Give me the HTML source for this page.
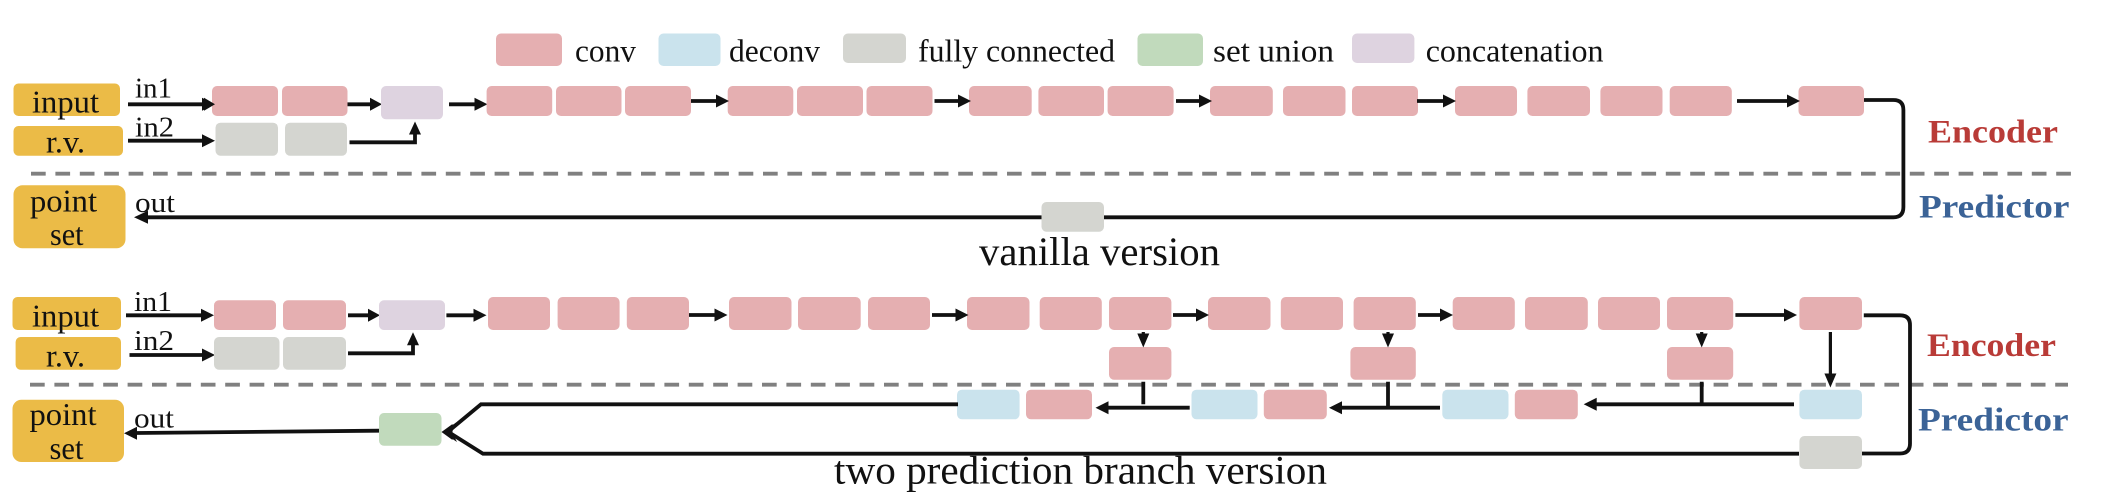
<!DOCTYPE html>
<html><head><meta charset="utf-8"><style>
html,body{margin:0;padding:0;background:#fff}
svg{display:block}
text{font-family:"Liberation Serif",serif;fill:#111}
.c{fill:#E5AFB1}.d{fill:#CAE3ED}.f{fill:#D4D5D0}.u{fill:#C1DABC}.k{fill:#DED3E0}.g{fill:#EBBB47}
.l{fill:none;stroke:#111;stroke-width:3.8}
.t{fill:none;stroke:#111;stroke-width:3.2}
.h{fill:#111}
.da{fill:none;stroke:#808080;stroke-width:3.8;stroke-dasharray:14.7 9.7}
</style></head><body>
<svg width="2106" height="502" viewBox="0 0 2106 502" xmlns="http://www.w3.org/2000/svg">
<rect width="2106" height="502" fill="#fff"/>
<!-- legend -->
<rect class="c" x="496" y="33.5" width="66" height="32.5" rx="5"/>
<rect class="d" x="658.5" y="33.5" width="62" height="32.5" rx="5"/>
<rect class="f" x="843" y="33.5" width="63" height="29.5" rx="5"/>
<rect class="u" x="1137.5" y="33.5" width="65.5" height="32.5" rx="5"/>
<rect class="k" x="1352" y="33.5" width="62.4" height="29.5" rx="5"/>
<g font-size="32">
<text x="575" y="61.7" textLength="61" lengthAdjust="spacingAndGlyphs">conv</text>
<text x="729" y="61.7" textLength="91" lengthAdjust="spacingAndGlyphs">deconv</text>
<text x="918" y="61.7" textLength="197" lengthAdjust="spacingAndGlyphs">fully connected</text>
<text x="1213" y="61.7" textLength="121" lengthAdjust="spacingAndGlyphs">set union</text>
<text x="1425.7" y="61.7" textLength="177.8" lengthAdjust="spacingAndGlyphs">concatenation</text>
</g>

<!-- TOP: vanilla -->
<rect class="g" x="13.5" y="83.5" width="106.5" height="32.5" rx="5"/>
<rect class="g" x="13.5" y="126" width="109.5" height="29.7" rx="5"/>
<rect class="g" x="13.5" y="185.3" width="112" height="63" rx="9"/>
<g font-size="32">
<text x="32" y="112.7" textLength="67" lengthAdjust="spacingAndGlyphs">input</text>
<text x="46" y="152.3" textLength="39" lengthAdjust="spacingAndGlyphs">r.v.</text>
<text x="30" y="211.7" textLength="67" lengthAdjust="spacingAndGlyphs">point</text>
<text x="50" y="245" textLength="33.5" lengthAdjust="spacingAndGlyphs">set</text>
</g>
<g font-size="29">
<text x="135" y="97.7" textLength="37" lengthAdjust="spacingAndGlyphs">in1</text>
<text x="135" y="136.7" textLength="39" lengthAdjust="spacingAndGlyphs">in2</text>
<text x="135" y="212" textLength="40" lengthAdjust="spacingAndGlyphs">out</text>
</g>
<path class="l" d="M128 104.3H204M128 140.7H205M347 104.3H372M449 104.3H477M349.5 142.3H415V132"/>
<path class="h" d="M215 104.3l-13-6.5v13zM215 140.7l-13-6.5v13zM382 104.3l-12-6.5v13zM487.5 104.3l-13-6.5v13zM415 121.5l-6 13h12z"/>
<rect class="c" x="212" y="86" width="66" height="30" rx="5"/>
<rect class="c" x="282" y="86" width="65.5" height="30" rx="5"/>
<rect class="f" x="215.5" y="122.7" width="62.5" height="33" rx="5"/>
<rect class="f" x="285" y="122.7" width="62" height="33" rx="5"/>
<rect class="k" x="381" y="86" width="62" height="33.3" rx="5"/>
<path class="h" d="M215 104.3l-11-6.5v13z"/>
<g class="c">
<rect x="486.6" y="86" width="65.6" height="30" rx="5"/>
<rect x="556" y="86" width="65.5" height="30" rx="5"/>
<rect x="625" y="86" width="66" height="30" rx="5"/>
<rect x="727.7" y="86" width="65.6" height="30" rx="5"/>
<rect x="797" y="86" width="66" height="30" rx="5"/>
<rect x="866.5" y="86" width="66" height="30" rx="5"/>
<rect x="969" y="86" width="62.7" height="30" rx="5"/>
<rect x="1038.4" y="86" width="65.6" height="30" rx="5"/>
<rect x="1107.6" y="86" width="66" height="30" rx="5"/>
<rect x="1210" y="86" width="62.8" height="30" rx="5"/>
<rect x="1283" y="86" width="62.5" height="30" rx="5"/>
<rect x="1352" y="86" width="66" height="30" rx="5"/>
<rect x="1455" y="86" width="62" height="30" rx="5"/>
<rect x="1527.4" y="86" width="62.6" height="30" rx="5"/>
<rect x="1600.4" y="86" width="62.1" height="30" rx="5"/>
<rect x="1669.7" y="86" width="62.1" height="30" rx="5"/>
<rect x="1798.5" y="86" width="65.5" height="30" rx="5"/>
</g>
<path class="l" d="M691 101H717M934.5 101H960M1176 101H1201M1417 101H1445M1737 101H1789"/>
<path class="h" d="M729 101l-13-6.5v13zM971 101l-13-6.5v13zM1212 101l-13-6.5v13zM1456 101l-13-6.5v13zM1800 101l-13-6.5v13z"/>
<path class="l" d="M1864 100H1893.4Q1903.4 100 1903.4 110V207Q1903.4 217.3 1893.4 217.3H147"/>
<path class="h" d="M134 217.3l14-6.5v13z"/>
<rect class="f" x="1041.5" y="202" width="62.5" height="29.7" rx="5"/>
<path class="da" d="M31 173.7H2071"/>
<g font-weight="bold" font-size="33">
<text style="fill:#B93B37" x="1928" y="142.7" textLength="130" lengthAdjust="spacingAndGlyphs">Encoder</text>
<text style="fill:#3B6397" x="1919" y="217.3" textLength="150.5" lengthAdjust="spacingAndGlyphs">Predictor</text>
</g>
<text x="979" y="265" font-size="40" textLength="241" lengthAdjust="spacingAndGlyphs">vanilla version</text>

<!-- BOTTOM: two branch -->
<rect class="g" x="12.5" y="297" width="108.5" height="33" rx="5"/>
<rect class="g" x="15.6" y="337" width="105.4" height="32.7" rx="5"/>
<rect class="g" x="12.5" y="399.7" width="111.5" height="62.3" rx="9"/>
<g font-size="32">
<text x="32" y="326.7" textLength="67" lengthAdjust="spacingAndGlyphs">input</text>
<text x="46" y="366.3" textLength="39" lengthAdjust="spacingAndGlyphs">r.v.</text>
<text x="29.5" y="425" textLength="67" lengthAdjust="spacingAndGlyphs">point</text>
<text x="49.5" y="459" textLength="34" lengthAdjust="spacingAndGlyphs">set</text>
</g>
<g font-size="29">
<text x="134" y="311" textLength="38" lengthAdjust="spacingAndGlyphs">in1</text>
<text x="134" y="350" textLength="40" lengthAdjust="spacingAndGlyphs">in2</text>
<text x="134" y="427.7" textLength="40" lengthAdjust="spacingAndGlyphs">out</text>
</g>
<path class="l" d="M126 315.3H203M129.5 355H204M348 315.3H370M446.4 315.3H476M348 353.3H413V344"/>
<path class="h" d="M214 315.3l-13-6.5v13zM215 355l-13-6.5v13zM380 315.3l-12-6.5v13zM486.5 315.3l-13-6.5v13zM413 332.3l-6 13h12z"/>
<rect class="c" x="214" y="300.3" width="62" height="29.7" rx="5"/>
<rect class="c" x="283" y="300.3" width="63" height="29.7" rx="5"/>
<rect class="f" x="214" y="337" width="65.5" height="32.7" rx="5"/>
<rect class="f" x="283" y="337" width="63" height="32.7" rx="5"/>
<rect class="k" x="379" y="300.3" width="66" height="29.7" rx="5"/>
<g class="c">
<rect x="488" y="297" width="62" height="33" rx="5"/>
<rect x="557.6" y="297" width="62" height="33" rx="5"/>
<rect x="626.8" y="297" width="62.2" height="33" rx="5"/>
<rect x="729" y="297" width="62.5" height="33" rx="5"/>
<rect x="798" y="297" width="62.7" height="33" rx="5"/>
<rect x="868" y="297" width="62" height="33" rx="5"/>
<rect x="967" y="297" width="62.5" height="33" rx="5"/>
<rect x="1039.7" y="297" width="62.1" height="33" rx="5"/>
<rect x="1109" y="297" width="62.4" height="33" rx="5"/>
<rect x="1208" y="297" width="62.5" height="33" rx="5"/>
<rect x="1280.8" y="297" width="62.2" height="33" rx="5"/>
<rect x="1353.6" y="297" width="62.2" height="33" rx="5"/>
<rect x="1452.7" y="297" width="62.1" height="33" rx="5"/>
<rect x="1525" y="297" width="62.8" height="33" rx="5"/>
<rect x="1598" y="297" width="62" height="33" rx="5"/>
<rect x="1667" y="297" width="66.2" height="33" rx="5"/>
<rect x="1799.4" y="297" width="62.6" height="33" rx="5"/>
<rect x="1109" y="347" width="62.4" height="32.7" rx="5"/>
<rect x="1350.4" y="347" width="65.4" height="32.7" rx="5"/>
<rect x="1667" y="347" width="66.2" height="32.7" rx="5"/>
</g>
<path class="l" d="M689 315H716M932 315H958M1173 315H1198M1418 315H1442M1735.4 315H1786"/>
<path class="h" d="M727.5 315l-13-6.5v13zM968.5 315l-13-6.5v13zM1209 315l-13-6.5v13zM1453 315l-13-6.5v13zM1797 315l-13-6.5v13z"/>
<path class="t" d="M1143.3 332V338M1388 332V338M1701.7 332V338M1830.4 332V376"/>
<path class="h" d="M1143.3 347.5l-6-14h12zM1388 347.5l-6-14h12zM1701.7 347.5l-6-14h12zM1830.4 387.5l-6-14h12z"/>
<path class="da" d="M30 384.7H2068"/>
<rect class="d" x="957" y="389.7" width="62.6" height="29.6" rx="5"/>
<rect class="c" x="1026" y="389.7" width="66" height="29.6" rx="5"/>
<rect class="d" x="1191.5" y="389.7" width="66" height="29.6" rx="5"/>
<rect class="c" x="1263.8" y="389.7" width="63" height="29.6" rx="5"/>
<rect class="d" x="1442.3" y="389.7" width="66.2" height="29.6" rx="5"/>
<rect class="c" x="1514.8" y="389.7" width="63" height="29.6" rx="5"/>
<rect class="d" x="1799.4" y="389.7" width="62.6" height="29.6" rx="5"/>
<rect class="f" x="1799.4" y="436" width="62.6" height="33" rx="5"/>
<path class="l" d="M1189.7 407.7H1105M1143.3 381.7V404.3M1440 407.7H1340M1388 381.7V407.7M1794 404.3H1595M1701.7 381.7V404.3"/>
<path class="h" d="M1095.5 407.7l13-6.5v13zM1329 407.7l13-6.5v13zM1583.7 404.3l13-6.5v13z"/>
<path class="l" d="M958 404.3H481L450 430M1799 453.7H483L450 433"/>
<path class="h" d="M442 432l15-10-5 10 5 10z"/>
<path class="l" d="M1863.8 315.3H1900Q1910 315.3 1910 325V443.5Q1910 453.5 1900 453.5H1862"/>
<rect class="u" x="379" y="413" width="62.5" height="32.7" rx="5"/>
<path class="h" d="M441.5 432l11-8v16zM124 433.3l13-6.5v13z"/>
<path class="l" d="M379 430.7L136 433"/>
<g font-weight="bold" font-size="33">
<text style="fill:#B93B37" x="1927" y="356" textLength="129" lengthAdjust="spacingAndGlyphs">Encoder</text>
<text style="fill:#3B6397" x="1918" y="430.7" textLength="150.6" lengthAdjust="spacingAndGlyphs">Predictor</text>
</g>
<text x="834" y="483.3" font-size="40" textLength="493" lengthAdjust="spacingAndGlyphs">two prediction branch version</text>
</svg>
</body></html>
